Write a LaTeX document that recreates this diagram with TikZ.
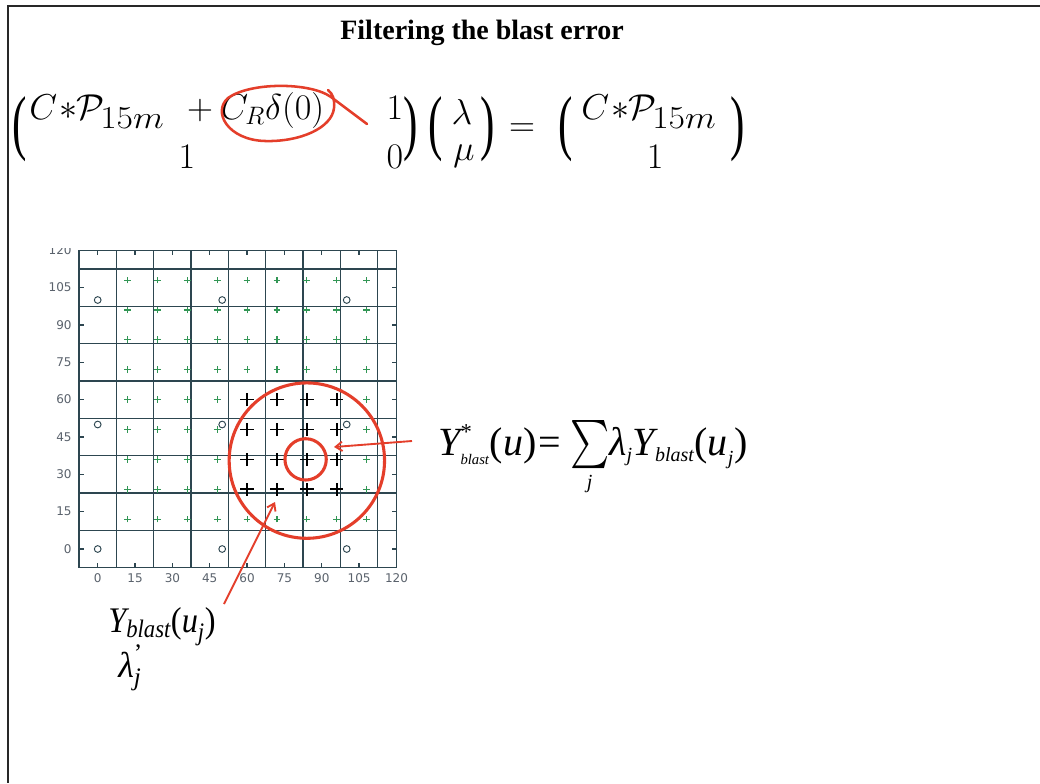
\RequirePackage{fix-cm}
\documentclass[tikz,border=0pt]{standalone}
\usepackage{amsmath}
\usepackage{graphicx}
\usepackage{fontspec}
\setmainfont{Liberation Serif}
\newfontfamily\tickfont{DejaVu Sans}
\usetikzlibrary{arrows.meta}
\definecolor{redann}{RGB}{228,62,42}
\definecolor{gridcol}{RGB}{45,70,80}
\definecolor{tickcol}{RGB}{90,98,108}
\definecolor{greenpt}{RGB}{50,150,85}
\definecolor{framecol}{RGB}{40,40,40}
\tikzset{
  eq/.style={inner sep=0pt,font=\fontsize{27}{32}\selectfont},
  eqsub/.style={inner sep=0pt,font=\fontsize{24}{28}\selectfont},
  gridline/.style={draw=gridcol,line width=1pt},
  ticklbl/.style={inner sep=0pt,text=tickcol,font=\tickfont\fontsize{9}{10}\selectfont},
  gplus/.style={draw=greenpt,line width=0.8pt},
  bplus/.style={draw=black,line width=1.2pt},
  opt/.style={draw=gridcol,line width=0.7pt},
  redc/.style={draw=redann,line width=2.3pt},
  redarrow/.style={draw=redann,line width=1.4pt,-{Straight Barb[length=5pt,width=7pt]}},
  redlasso/.style={draw=redann,line width=1.9pt,line cap=round},
}
\newcommand{\bigsum}{\mathop{\vcenter{\hbox{\scalebox{1.12}[1.45]{$\sum$}}}}\limits}
\newcommand{\tsub}[2]{\hbox{\fontsize{#1}{#1}\selectfont\itshape #2}}
\begin{document}
\begin{tikzpicture}[x=0.75pt,y=-0.75pt]
\useasboundingbox (0,0) rectangle (1040,783);
\fill[white] (0,0) rectangle (1040,783);
% frame
\draw[framecol,line width=1.5pt] (1040,5.7) -- (8,5.7) -- (8,783);
% title
\node[anchor=base,inner sep=0pt,font=\bfseries\fontsize{21}{25}\selectfont] (title) at (482,39) {Filtering the blast error};

% ---- first equation ----
\node[eq] (lp1) at (19.5,129.5) {\scalebox{1.2}[2.0]{(}};
\node[eq,anchor=base west] (c1) at (29,119) {$C$};
\node[eq,anchor=base] (s1) at (68,119) {$*$};
\node[eq,anchor=base west] (p1) at (76,119) {$\mathcal{P}$};
\node[eqsub,anchor=base west] (sub1) at (100,128) {\scalebox{1.12}[1]{$15m$}};
\node[eq,anchor=base] (plus) at (200,119) {$+$};
\node[eq,anchor=base west] (cr) at (220,119) {$C_R\delta(0)$};
\node[eq,anchor=base] (m12) at (395,119) {$1$};
\node[eq,anchor=base] (m21) at (187,168) {$1$};
\node[eq,anchor=base] (m22) at (395,168) {$0$};
\node[eq] (rp1) at (411,129.5) {\scalebox{1.2}[2.0]{)}};
\node[eq] (lp2) at (436,129.5) {\scalebox{1.2}[2.0]{(}};
\node[eq,anchor=base] (lam) at (462,124) {$\lambda$};
\node[eq,anchor=base] (mu) at (464,160) {$\mu$};
\node[eq] (rp2) at (488,129.5) {\scalebox{1.2}[2.0]{)}};
\node[eq] (eqsign) at (522,130) {$=$};
\node[eq] (lp3) at (566,129.5) {\scalebox{1.2}[2.0]{(}};
\node[eq,anchor=base west] (c2) at (581,119) {$C$};
\node[eq,anchor=base] (s2) at (620,119) {$*$};
\node[eq,anchor=base west] (p2) at (628,119) {$\mathcal{P}$};
\node[eqsub,anchor=base west] (sub2) at (652,128) {\scalebox{1.12}[1]{$15m$}};
\node[eq,anchor=base] (r21) at (655,168) {$1$};
\node[eq] (rp3) at (738,129.5) {\scalebox{1.2}[2.0]{)}};
% red lasso
\draw[redlasso] (367,124) -- (331,97) .. controls (310,82) and (250,82) .. (228,98)
  .. controls (212,112) and (228,140) .. (265,141)
  .. controls (300,142) and (332,128) .. (334,108)
  .. controls (335,100) and (333,94) .. (328,90);

% ---- plot ----
\begin{scope}[shift={(97.7,549)},x=1.8675pt,y=1.8675pt]
\begin{scope}
\clip (-60,-30) rectangle (140,120.6);
\foreach \g in {7.5,22.5,...,112.5}{
  \draw[gridline] (\g,-7.5) -- (\g,120);
  \draw[gridline] (-7.5,\g) -- (120,\g);
}
\draw[gridline] (-7.5,-7.5) rectangle (120,120);
\foreach \t in {0,15,...,105}{
  \draw[gridline] (\t,-7.5) -- ++(0,2);
  \draw[gridline] (\t,120) -- ++(0,-2);
  \draw[gridline] (-7.5,\t) -- ++(2,0);
  \draw[gridline] (120,\t) -- ++(-2,0);
}
\foreach \t in {0,15,...,120}{
  \node[ticklbl] (xl\t) at (\t,-11.8) {\t};
  \node[ticklbl,anchor=east] (yl\t) at (-10.4,\t) {\t};
}
\foreach \i in {1,...,9}{
  \foreach \j in {1,...,9}{
    \pgfmathtruncatemacro\blk{(\i>4)*(\i<9)*(\j>1)*(\j<6)}
    \ifnum\blk=1
      \draw[bplus] (12*\i-2.7,12*\j) -- (12*\i+2.7,12*\j) (12*\i,12*\j-2.7) -- (12*\i,12*\j+2.7);
    \else
      \draw[gplus] (12*\i-1.35,12*\j) -- (12*\i+1.35,12*\j) (12*\i,12*\j-1.35) -- (12*\i,12*\j+1.35);
    \fi
  }
}
\foreach \a in {0,50,100}{
  \foreach \b in {0,50,100}{
    \draw[opt] (\a,\b) circle[radius=1.35];
  }
}
\end{scope}
\draw[redc] (84,35.5) circle[radius=31.2];
\draw[redc] (83.5,36) circle[radius=8.3];
\end{scope}

% ---- formulas ----
\node[anchor=base west,inner sep=0pt,font=\fontsize{30}{36}\selectfont] (fsum) at (438,455)
 {$\text{\itshape Y}^{\hbox{\fontsize{17}{17}\selectfont *}}_{\tsub{11}{blast}}\text{(\itshape u\/\upshape)}\mkern1mu\text{=}\mkern1mu\bigsum_{\tsub{15}{j}}\mkern-3mu\text{\itshape λ}_{\tsub{15}{j}}\text{\itshape Y}_{\tsub{15}{blast}}\text{(\itshape u}_{\tsub{15}{j}}\text{)}$};
\node[anchor=base west,inner sep=0pt,font=\fontsize{27}{32}\selectfont] (ylab) at (108,632)
 {\scalebox{0.9}[1]{$\text{\itshape Y}_{\text{\itshape blast}}\text{(\itshape u}_{\text{\itshape j}}\text{)}$}};
\node[anchor=base west,inner sep=0pt,font=\fontsize{27}{32}\selectfont] (llab) at (118,677)
 {$\text{\itshape λ}^{\text{'}}_{\text{\itshape j}}$};

% ---- arrows ----
\coordinate (a1s) at (412,441);
\coordinate (a1e) at (334,447);
\draw[redarrow] (a1s) -- (a1e);
\coordinate (a2s) at (224,604);
\coordinate (a2e) at (275,502);
\draw[redarrow] (a2s) -- (a2e);
\end{tikzpicture}
\end{document}
